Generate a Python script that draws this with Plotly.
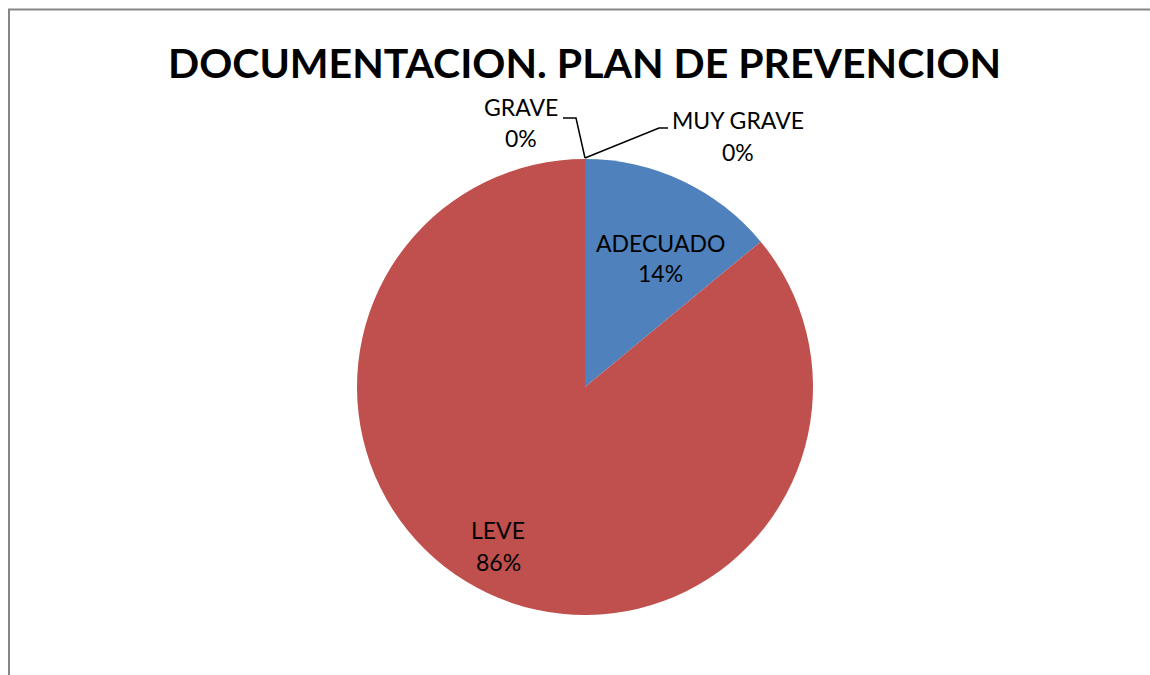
import plotly.graph_objects as go

categories = ["ADECUADO", "LEVE", "GRAVE", "MUY GRAVE"]
values = [14, 86, 0, 0]
colors = ["#4F81BD", "#C0504D", "#9BBB59", "#8064A2"]
title_text = "DOCUMENTACION. PLAN DE PREVENCION"

W, H = 1150, 675
cx, cy, r = 585, 387, 228

def px(x):
    return x / W

def py(y):
    return 1 - y / H

fig = go.Figure()
fig.add_trace(go.Pie(
    labels=categories, values=values, sort=False, direction="clockwise",
    rotation=0, marker=dict(colors=colors, line=dict(width=0)),
    textinfo="none", hoverinfo="label+percent", showlegend=False,
    domain=dict(x=[px(cx - r), px(cx + r)], y=[py(cy + r), py(cy - r)]),
))

total = sum(values)
pct = [f"{round(v * 100 / total)}%" for v in values]
label_pos = {
    "ADECUADO": (661, 243, 273),
    "LEVE": (498, 530, 562),
    "GRAVE": (521, 107, 138),
    "MUY GRAVE": (738, 120, 152),
}
font = dict(family="Lato, Open Sans, sans-serif", size=23, color="#000000")
for cat, p in zip(categories, pct):
    x, y1, y2 = label_pos[cat]
    fig.add_annotation(x=px(x), y=py(y1), xref="paper", yref="paper", text=cat,
                       showarrow=False, font=font, xanchor="center", yanchor="middle")
    fig.add_annotation(x=px(x), y=py(y2), xref="paper", yref="paper", text=p,
                       showarrow=False, font=font, xanchor="center", yanchor="middle")

# leader lines
line = dict(color="#000000", width=1.5)
fig.add_shape(type="path", xref="paper", yref="paper",
              path=f"M {px(563)} {py(118)} L {px(576)} {py(118)} L {px(585)} {py(158)}",
              line=line)
fig.add_shape(type="path", xref="paper", yref="paper",
              path=f"M {px(668)} {py(128)} L {px(659)} {py(128)} L {px(585)} {py(158)}",
              line=line)

# chart border
fig.add_shape(type="path", xref="paper", yref="paper",
              path=f"M {px(9)} {py(676)} L {px(9)} {py(9.5)} L {px(1150)} {py(9.5)}",
              line=dict(color="#868686", width=2))

fig.add_annotation(x=px(585), y=py(62), xref="paper", yref="paper", text=f"<b>{title_text}</b>",
                   showarrow=False, font=dict(family="Lato, sans-serif", size=41, color="#000000"),
                   xanchor="center", yanchor="middle")

fig.update_layout(width=W, height=H, margin=dict(l=0, r=0, t=0, b=0),
                  paper_bgcolor="white", plot_bgcolor="white")
fig.write_html("out.html", config={"displayModeBar": False},
               post_script="document.body.style.margin='0';document.body.style.overflow='hidden';")
